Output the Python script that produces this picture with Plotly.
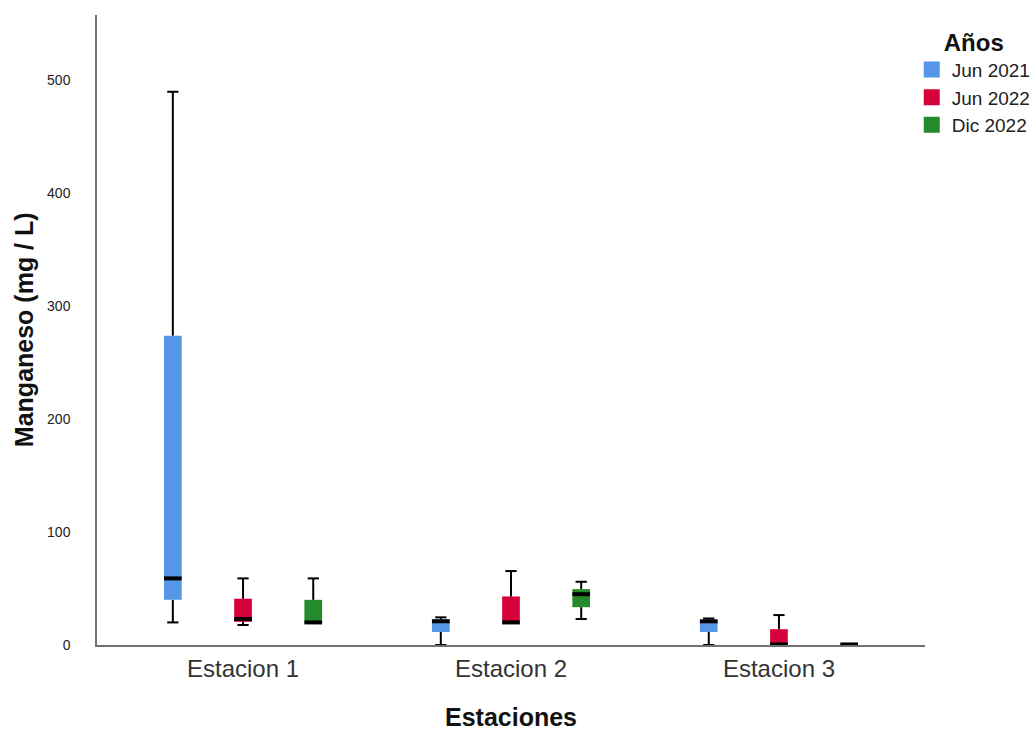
import plotly.graph_objects as go

# Manganese concentration per station and campaign (box-plot summaries, mg/L)
estaciones = ["Estacion 1", "Estacion 2", "Estacion 3"]
series_names = ["Jun 2021", "Jun 2022", "Dic 2022"]
colors = ["#5597E6", "#D6003A", "#248A2B"]

jun21_low = [20, 0, 0]
jun21_q1 = [40, 11.5, 11.5]
jun21_med = [59, 21, 21]
jun21_q3 = [274, 23, 22]
jun21_high = [490, 24.5, 23.5]

jun22_low = [17.7, 19.5, 0]
jun22_q1 = [20.5, 19.5, 0]
jun22_med = [23, 20, 0.5]
jun22_q3 = [41, 43, 14]
jun22_high = [59, 65.5, 26.5]

dic22_low = [19.5, 23, 0]
dic22_q1 = [19.5, 33.5, 0]
dic22_med = [20, 45, 0.5]
dic22_q3 = [40, 49.5, 0.8]
dic22_high = [59, 56, 0.8]

stats = [
    (jun21_low, jun21_q1, jun21_med, jun21_q3, jun21_high),
    (jun22_low, jun22_q1, jun22_med, jun22_q3, jun22_high),
    (dic22_low, dic22_q1, dic22_med, dic22_q3, dic22_high),
]

group_offsets = [-0.262, 0.0, 0.262]
box_w = 0.066
cap_w = 0.042
positions = [1, 2, 3]

fig = go.Figure()

for name, color, off, (low, q1, med, q3, high) in zip(series_names, colors, group_offsets, stats):
    xs = [p + off for p in positions]
    # box body
    fig.add_trace(go.Bar(
        x=xs, base=q1, y=[b - a for a, b in zip(q1, q3)], width=box_w,
        marker=dict(color=color, line=dict(width=0)), name=name,
        showlegend=False, hoverinfo="skip",
    ))
    # whiskers and caps
    wx, wy = [], []
    for x, lo, a, b, hi in zip(xs, low, q1, q3, high):
        if lo < a:
            wx += [x, x, None, x - cap_w / 2, x + cap_w / 2, None]
            wy += [lo, a, None, lo, lo, None]
        if hi > b:
            wx += [x, x, None, x - cap_w / 2, x + cap_w / 2, None]
            wy += [b, hi, None, hi, hi, None]
    fig.add_trace(go.Scatter(x=wx, y=wy, mode="lines", line=dict(color="black", width=2),
                             showlegend=False, hoverinfo="skip"))
    # medians
    mx, my = [], []
    for x, m in zip(xs, med):
        mx += [x - box_w / 2, x + box_w / 2, None]
        my += [m, m, None]
    fig.add_trace(go.Scatter(x=mx, y=my, mode="lines", line=dict(color="black", width=4),
                             showlegend=False, hoverinfo="skip"))

# legend entries with square swatches
for name, color in zip(series_names, colors):
    fig.add_trace(go.Scatter(
        x=[None], y=[None], mode="markers", name=name,
        marker=dict(symbol="square", size=16, color=color), hoverinfo="skip",
    ))

font_family = "Liberation Sans, Arial, sans-serif"

fig.update_layout(
    width=1036, height=731,
    margin=dict(l=97, r=111, t=15, b=86, autoexpand=False),
    plot_bgcolor="white", paper_bgcolor="white",
    barmode="overlay",
    font=dict(family=font_family, color="#222222"),
    xaxis=dict(
        range=[0.455, 3.545], tickmode="array", tickvals=positions, ticktext=estaciones,
        showgrid=False, zeroline=False, showline=True, linecolor="#707070", linewidth=1.5,
        ticks="", tickfont=dict(size=24, color="#333333"), ticklabelstandoff=1,
        title=dict(text="<b>Estaciones</b>", font=dict(size=25, color="#111111"), standoff=28),
    ),
    yaxis=dict(
        range=[0, 558], tickvals=[0, 100, 200, 300, 400, 500],
        showgrid=False, zeroline=False, showline=True, linecolor="#707070", linewidth=1.5,
        ticks="", tickfont=dict(size=14, color="#222222"), ticklabelstandoff=22,
    ),
    annotations=[dict(
        text="<b>Manganeso (mg / L)</b>", textangle=-90,
        xref="paper", yref="paper", x=-0.088, y=0.5, xanchor="center", yanchor="middle",
        showarrow=False, font=dict(size=25, color="#111111"),
    )],
    legend=dict(
        title=dict(text="<b>Años</b>", font=dict(size=24, color="#111111"), side="top center"),
        x=0.984, xanchor="left", y=0.993, yanchor="top",
        font=dict(size=19, color="#222222"),
        itemwidth=30,
    ),
)

fig.write_html("out.html")
